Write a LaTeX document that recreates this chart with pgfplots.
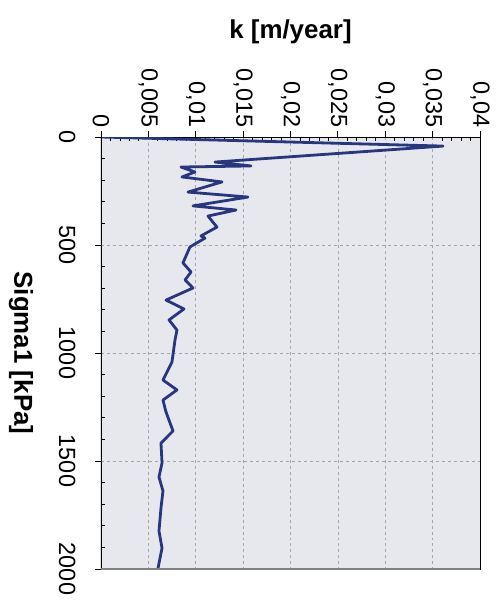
\documentclass[border=0pt]{standalone}
\usepackage{fontspec}
\setmainfont{Liberation Sans}
\usepackage{pgfplots}
\pgfplotsset{compat=1.18}
\definecolor{plotbg}{HTML}{E6E8EE}
\definecolor{curve}{HTML}{28357F}

\begin{document}
\begin{tikzpicture}
\begin{axis}[
  scale only axis, width=379bp, height=432bp,
  xmin=0, xmax=0.04, ymin=0, ymax=2000,
  y dir=reverse,
  xtick={0,0.005,0.01,0.015,0.02,0.025,0.03,0.035,0.04},
  ytick={0,500,1000,1500,2000},
  minor x tick num=4, minor y tick num=4,
  xtick pos=right, xticklabel pos=right, ytick pos=left,
  tick align=outside,
  major tick length=6bp, minor tick length=-4bp,
  tick style={black, line width=0.8bp},
  grid=major, major grid style={dashed, gray!70, line width=0.6bp},
  axis background/.style={fill=plotbg},
  axis line style={black, line width=0.8bp},
  scaled x ticks=false,
  /pgf/number format/assume math mode=true,
  tick label style={font=\fontsize{23.5}{26}\selectfont},
  xticklabel style={rotate=-90, anchor=east,
    /pgf/number format/.cd, fixed, precision=3, use comma},
  yticklabel style={rotate=-90, anchor=north,
    /pgf/number format/1000 sep={}},
  yticklabel shift=16bp,
  xlabel={k [m/year]}, ylabel={Sigma1 [kPa]},
  label style={font=\bfseries\fontsize{26}{30}\selectfont},
  xlabel style={at={(rel axis cs:0.5,1)}, anchor=center, yshift=105bp},
  ylabel style={at={(rel axis cs:0,0.5)}, anchor=center, yshift=80bp, rotate=180},
]
\addplot[curve, line width=2.8bp, line join=round] coordinates {
(0,0) (0.0361,42) (0.01203,116) (0.01583,134) (0.00844,139) (0.00992,162)
(0.00855,185) (0.01277,208) (0.00918,255) (0.01551,278) (0.00971,319)
(0.01425,338) (0.01129,366) (0.01224,417) (0.01055,458) (0.01098,468)
(0.00939,509) (0.00865,583) (0.00950,625) (0.00887,662) (0.00971,699)
(0.00686,755) (0.00876,796) (0.00718,847) (0.00802,894) (0.00781,940)
(0.00749,1042) (0.00654,1125) (0.00802,1171) (0.00654,1218) (0.00686,1273)
(0.00760,1361) (0.00633,1417) (0.00644,1509) (0.00612,1574) (0.00654,1639)
(0.00633,1718) (0.00612,1824) (0.00644,1903) (0.00602,1996)
};
\draw[black, line width=2.5bp] (rel axis cs:0,0) -- (rel axis cs:0,1);
\draw[gray, line width=1.5bp] (rel axis cs:0,0) -- (rel axis cs:1,0);
\end{axis}
\path ([xshift=-101bp,yshift=-34bp]current axis.south west) rectangle ([xshift=21bp,yshift=137bp]current axis.north east);
\end{tikzpicture}
\end{document}
